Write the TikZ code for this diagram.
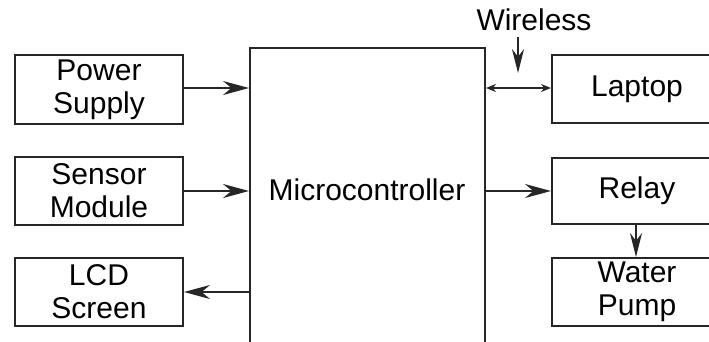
\documentclass[tikz,border=0pt]{standalone}
\usepackage{fontspec}
\setmainfont{Liberation Sans}
\usetikzlibrary{arrows.meta}
\begin{document}
\begin{tikzpicture}[x=1pt,y=-1pt,
  box/.style={draw=black!85, line width=2pt, anchor=north west, inner sep=0pt, align=center,
    font=\fontsize{30}{33}\selectfont},
  lbl/.style={font=\fontsize{30}{33}\selectfont, inner sep=0pt, align=center},
  conn/.style={line width=2pt, draw=black!85},
  arr/.style={conn, -{Stealth[length=26pt,width=14pt]}},
  arrv/.style={conn, -{Stealth[length=24pt,width=12pt]}},
  dbl/.style={conn, {Stealth[length=10pt,width=8pt]}-{Stealth[length=10pt,width=8pt]}}]
\useasboundingbox (0,0) rectangle (709,341);
\clip (0,0) rectangle (709,341);
% left boxes
\node[box, minimum width=168pt, minimum height=69pt] (ps) at (14,54) {Power\\Supply};
\node[box, minimum width=168pt, minimum height=68pt] (sm) at (14,156) {Sensor\\Module};
\node[box, minimum width=168pt, minimum height=68pt] (lcd) at (14,257) {LCD\\Screen};
% microcontroller
\node[box, minimum width=235pt, minimum height=360pt] (mc) at (249,47) {};
\node[lbl] (mct) at (367,190) {Microcontroller};
% right boxes
\node[box, minimum width=170pt, minimum height=68pt] (lap) at (551,54) {Laptop};
\node[box, minimum width=170pt, minimum height=66pt] (rel) at (551,157) {Relay};
\node[box, minimum width=170pt, minimum height=68pt] (wp) at (551,257) {Water\\Pump};
% wireless
\node[lbl] (wl) at (534,20) {Wireless};
\coordinate (wtop) at (518,37);
\coordinate (wbot) at (518,73);
% connectors
\draw[arr] (182,88) coordinate (psa) -- (psa -| mc.west);
\draw[arr] (sm.east) -- (sm.east -| mc.west);
\draw[arr] (lcd.east -| mc.west) -- (lcd.east);
\draw[arr] (mc.east |- rel.west) -- (rel.west);
\draw[dbl] (mc.east |- 0,88) -- (lap.west |- 0,88);
\draw[arrv] (wtop) -- (wbot);
\draw[arrv] (636,223) coordinate (ra) -- (ra |- wp.north);
\end{tikzpicture}
\end{document}
